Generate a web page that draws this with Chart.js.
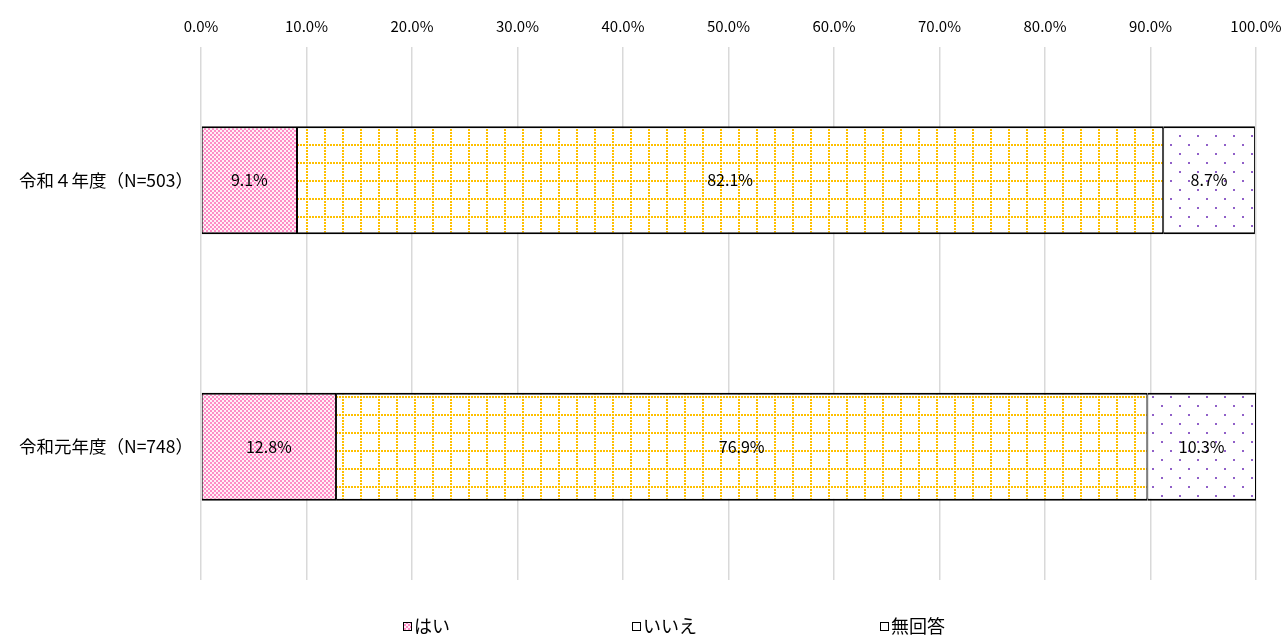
<!DOCTYPE html>
<html>
<head>
<meta charset="utf-8">
<script src="https://cdn.jsdelivr.net/npm/chart.js@4/dist/chart.umd.min.js"></script>
<style>
  html, body { margin: 0; padding: 0; background: #fff; }
  #wrap { width: 1285px; height: 636px; }
</style>
</head>
<body>
<div id="wrap"><canvas id="grafico" width="1285" height="636"></canvas></div>
<script>
// dados
const categorias = ['令和４年度（N=503）', '令和元年度（N=748）'];
const hai = [9.1, 12.8];
const iie = [82.1, 76.9];
const mukaitou = [8.7, 10.3];
const rotulosSerie = ['はい', 'いいえ', '無回答'];

const fonte = '"Noto Sans CJK JP", "Noto Sans", sans-serif';

// padrões de preenchimento
function padraoXadrez() {
  const c = document.createElement('canvas');
  c.width = 4; c.height = 4;
  const g = c.getContext('2d');
  g.fillStyle = '#fff0f7'; g.fillRect(0, 0, 4, 4);
  g.fillStyle = '#ff8cc6';
  g.fillRect(0, 0, 2, 2); g.fillRect(2, 2, 2, 2);
  return g.createPattern(c, 'repeat');
}

function padraoGrade() {
  const c = document.createElement('canvas');
  c.width = 18; c.height = 18;
  const g = c.getContext('2d');
  g.fillStyle = '#ffffff'; g.fillRect(0, 0, 18, 18);
  g.fillStyle = '#ffc000';
  for (let i = 0; i < 18; i += 3) {
    g.fillRect(0, i, 2, 2);
    g.fillRect(i, 0, 2, 2);
  }
  return g.createPattern(c, 'repeat');
}

function padraoPontos() {
  const c = document.createElement('canvas');
  c.width = 18; c.height = 18;
  const g = c.getContext('2d');
  g.fillStyle = '#ffffff'; g.fillRect(0, 0, 18, 18);
  g.fillStyle = '#9060c8';
  g.fillRect(0, 0, 2, 2);
  g.fillRect(9, 9, 2, 2);
  return g.createPattern(c, 'repeat');
}

const cores = [padraoXadrez(), padraoGrade(), padraoPontos()];
const series = [hai, iie, mukaitou];

// rótulos dentro das barras
const rotulosBarras = {
  id: 'rotulosBarras',
  afterDatasetsDraw(chart) {
    const ctx = chart.ctx;
    ctx.save();
    ctx.font = '16px ' + fonte;
    ctx.fillStyle = '#000';
    ctx.textAlign = 'center';
    ctx.textBaseline = 'middle';
    chart.data.datasets.forEach((ds, i) => {
      chart.getDatasetMeta(i).data.forEach((bar, j) => {
        const p = bar.getProps(['x', 'y', 'base'], true);
        ctx.fillText(ds.data[j].toFixed(1) + '%', (p.x + p.base) / 2, p.y);
      });
    });
    ctx.restore();
  }
};

// legenda desenhada à mão (espaçamento largo como no original)
const posLegenda = [403, 632, 880];
const legendaManual = {
  id: 'legendaManual',
  afterDraw(chart) {
    const ctx = chart.ctx;
    const y = 626;
    ctx.save();
    ctx.font = '18px ' + fonte;
    ctx.textBaseline = 'middle';
    ctx.textAlign = 'left';
    chart.data.datasets.forEach((ds, i) => {
      const x = posLegenda[i];
      ctx.fillStyle = ds.backgroundColor;
      ctx.fillRect(x, y - 4, 8, 8);
      ctx.strokeStyle = '#000';
      ctx.lineWidth = 1;
      ctx.strokeRect(x + 0.5, y - 3.5, 8, 8);
      ctx.fillStyle = '#000';
      ctx.fillText(ds.label, x + 11, y);
    });
    ctx.restore();
  }
};

const ctx = document.getElementById('grafico').getContext('2d');

new Chart(ctx, {
  type: 'bar',
  data: {
    labels: categorias,
    datasets: series.map((d, i) => ({
      label: rotulosSerie[i],
      data: d,
      backgroundColor: cores[i],
      borderColor: '#000',
      borderWidth: { top: 2, bottom: 2, left: 1, right: 1 },
      borderSkipped: false,
      categoryPercentage: 0.81,
      barPercentage: 0.5
    }))
  },
  options: {
    indexAxis: 'y',
    responsive: false,
    animation: false,
    layout: { padding: { top: 5, right: 0, left: 0, bottom: 56 } },
    scales: {
      x: {
        position: 'top',
        stacked: true,
        min: 0,
        max: 100,
        afterFit(scale) { scale.paddingRight = 29; },
        ticks: {
          stepSize: 10,
          padding: 12,
          color: '#000',
          font: { family: fonte, size: 15 },
          callback: v => v.toFixed(1) + '%'
        },
        grid: { color: '#d9d9d9', lineWidth: 1.5, drawTicks: false },
        border: { display: false }
      },
      y: {
        stacked: true,
        afterFit(scale) { scale.width = 201; },
        ticks: {
          padding: 0,
          color: '#000',
          font: { family: fonte, size: 17.5 }
        },
        grid: { display: false },
        border: { display: false }
      }
    },
    plugins: {
      legend: { display: false },
      tooltip: { enabled: false }
    }
  },
  plugins: [rotulosBarras, legendaManual]
});
</script>
</body>
</html>
